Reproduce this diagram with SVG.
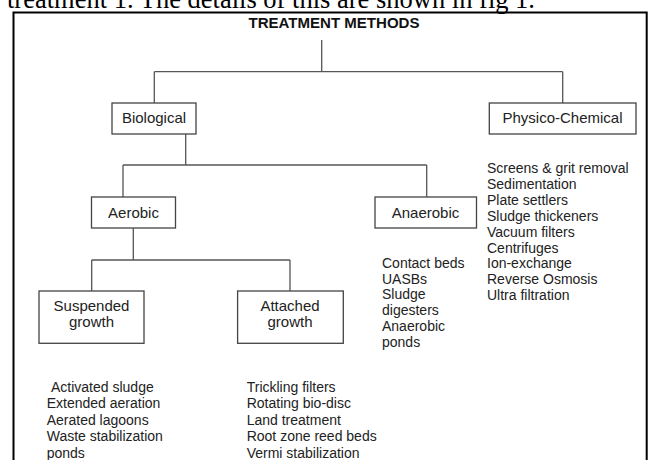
<svg xmlns="http://www.w3.org/2000/svg" width="648" height="460" viewBox="0 0 648 460">
<style>
.bg{fill:#fff}
.border{fill:none;stroke:#000;stroke-width:2}
.box{fill:#fff;stroke:#444;stroke-width:1.3}
.con{fill:none;stroke:#555;stroke-width:1.3}
.lbl{font-family:"Liberation Sans",Arial,sans-serif;font-size:15px;fill:#222;text-anchor:middle}
.lst{font-family:"Liberation Sans",Arial,sans-serif;font-size:14px;fill:#222}
.title{font-family:"Liberation Sans",Arial,sans-serif;font-size:15px;font-weight:bold;fill:#111}
.cap{font-family:"Liberation Serif","Times New Roman",serif;font-size:26.5px;fill:#000}
</style>
<rect class="bg" x="0" y="0" width="648" height="460"/>
<text class="cap" x="7" y="7.5" textLength="528" lengthAdjust="spacingAndGlyphs">treatment 1. The details of this are shown in fig 1.</text>
<path class="border" d="M13.5 470 V12.5 H646.7 V470"/>
<g id="connectors">
<path class="con" d="M321.7 40 V71.7 M154.3 71.7 H562.7 M154.3 71.7 V103 M562.7 71.7 V103"/>
<path class="con" d="M185.7 134 V165 M123 165 H426.7 M123 165 V197 M426.7 165 V197"/>
<path class="con" d="M133.3 228 V260 M91.7 260 H290 M91.7 260 V291 M290 260 V291"/>
</g>
<g id="root">
<text class="title" x="248.5" y="28" textLength="171" lengthAdjust="spacingAndGlyphs">TREATMENT METHODS</text>
</g>
<g id="biological">
<rect class="box" x="112" y="103" width="84" height="31"/>
<text class="lbl" x="154" y="123">Biological</text>
</g>
<g id="physico-chemical">
<rect class="box" x="489.3" y="103" width="146.7" height="31"/>
<text class="lbl" x="562.5" y="123">Physico-Chemical</text>
</g>
<g id="physico-list">
<text class="lst" x="487">
<tspan x="487" y="173">Screens &amp; grit removal</tspan>
<tspan x="487" y="188.9">Sedimentation</tspan>
<tspan x="487" y="204.8">Plate settlers</tspan>
<tspan x="487" y="220.7">Sludge thickeners</tspan>
<tspan x="487" y="236.6">Vacuum filters</tspan>
<tspan x="487" y="252.5">Centrifuges</tspan>
<tspan x="487" y="268.4">Ion-exchange</tspan>
<tspan x="487" y="284.3">Reverse Osmosis</tspan>
<tspan x="487" y="300.2">Ultra filtration</tspan>
</text>
</g>
<g id="aerobic">
<rect class="box" x="91.5" y="197" width="84" height="31"/>
<text class="lbl" x="133.5" y="217.5">Aerobic</text>
</g>
<g id="anaerobic">
<rect class="box" x="375" y="197" width="101.5" height="31"/>
<text class="lbl" x="425.5" y="217.5">Anaerobic</text>
</g>
<g id="anaerobic-list">
<text class="lst">
<tspan x="382" y="267.8">Contact beds</tspan>
<tspan x="382" y="283.6">UASBs</tspan>
<tspan x="382" y="299.4">Sludge</tspan>
<tspan x="382" y="315.2">digesters</tspan>
<tspan x="382" y="331">Anaerobic</tspan>
<tspan x="382" y="347">ponds</tspan>
</text>
</g>
<g id="suspended">
<rect class="box" x="39" y="291" width="105" height="52.3"/>
<text class="lbl"><tspan x="91.5" y="311">Suspended</tspan><tspan x="91.5" y="327">growth</tspan></text>
</g>
<g id="attached">
<rect class="box" x="237.6" y="291" width="105.7" height="52.3"/>
<text class="lbl"><tspan x="290" y="311">Attached</tspan><tspan x="290" y="327">growth</tspan></text>
</g>
<g id="suspended-list">
<text class="lst">
<tspan x="51" y="392">Activated sludge</tspan>
<tspan x="46.7" y="408.4">Extended aeration</tspan>
<tspan x="46.7" y="424.8">Aerated lagoons</tspan>
<tspan x="46.7" y="441.2">Waste stabilization</tspan>
<tspan x="46.7" y="457.6">ponds</tspan>
</text>
</g>
<g id="attached-list">
<text class="lst">
<tspan x="246.7" y="392">Trickling filters</tspan>
<tspan x="246.7" y="408.4">Rotating bio-disc</tspan>
<tspan x="246.7" y="424.8">Land treatment</tspan>
<tspan x="246.7" y="441.2">Root zone reed beds</tspan>
<tspan x="246.7" y="457.6">Vermi stabilization</tspan>
</text>
</g>
</svg>
